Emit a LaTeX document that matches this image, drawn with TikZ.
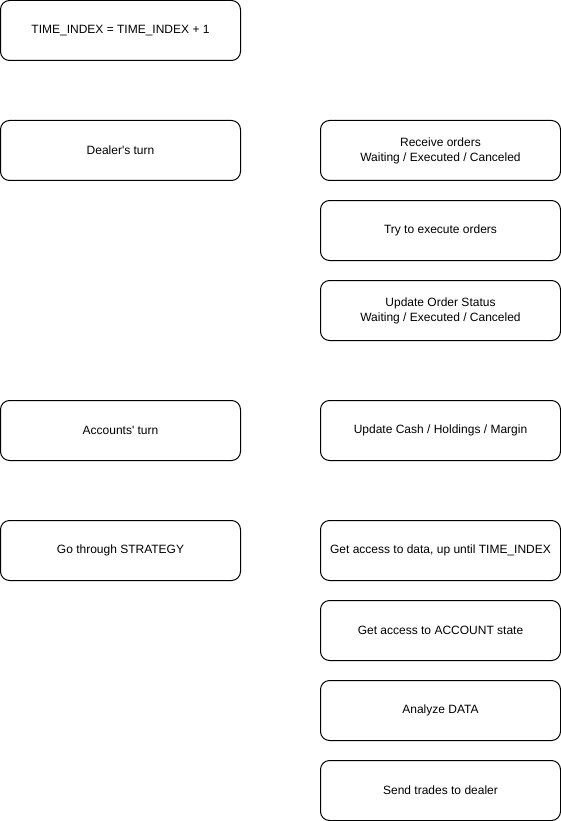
\documentclass[tikz,border=0pt]{standalone}
\usepackage{fontspec}
\setmainfont{Liberation Sans}
\usetikzlibrary{positioning}
\newcommand{\flowboxcolor}[0]{white}
\tikzset{
    flowbox/.style={rectangle, rounded corners=9pt, draw=black, line width=1pt, fill=\flowboxcolor,
        minimum width=240pt, minimum height=60pt, align=center, inner sep=0pt, outer sep=0pt,
        font=\fontsize{12}{15}\selectfont}
}

\begin{document}
\begin{tikzpicture}[x=1pt, y=-1pt]
    \useasboundingbox (0,0) rectangle (561,821);
    % left column
    \node[flowbox] at (120.5,30.5)
        (time_index) {TIME\_INDEX = TIME\_INDEX + 1};
    \node[flowbox, below=60pt of time_index]
        (dealer) {Dealer\textquotesingle s turn};
    \node[flowbox, below=220pt of dealer]
        (accounts) {Accounts\textquotesingle\ turn};
    \node[flowbox, below=60pt of accounts]
        (strategy) {Go through STRATEGY};
    % right column
    \node[flowbox, right=80pt of dealer]
        (receive) {Receive orders\\Waiting / Executed / Canceled};
    \node[flowbox, below=20pt of receive]
        (execute) {Try to execute orders};
    \node[flowbox, below=20pt of execute]
        (status) {Update Order Status\\Waiting / Executed / Canceled};
    \node[flowbox, right=80pt of accounts]
        (cash) {Update Cash / Holdings / Margin};
    \node[flowbox, right=80pt of strategy]
        (data) {Get access to data, up until TIME\_INDEX};
    \node[flowbox, below=20pt of data]
        (account_state) {Get access to ACCOUNT state};
    \node[flowbox, below=20pt of account_state]
        (analyze) {Analyze DATA};
    \node[flowbox, below=20pt of analyze]
        (trades) {Send trades to dealer};
\end{tikzpicture}
\end{document}
